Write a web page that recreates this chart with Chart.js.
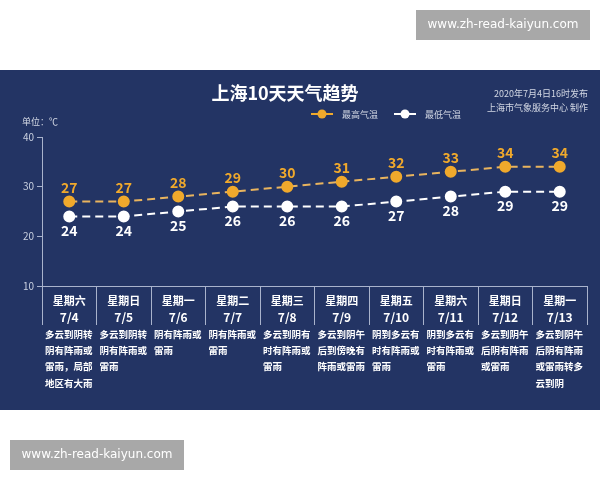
<!DOCTYPE html>
<html>
<head>
<meta charset="utf-8">
<script src="https://cdn.jsdelivr.net/npm/chart.js@4"></script>
<style>
  html, body { margin: 0; padding: 0; background: #fff; }
  #wrap { width: 600px; height: 480px; position: relative; }
</style>
</head>
<body>
<div id="wrap"><canvas id="weatherChart"></canvas></div>
<script>
// 10-day forecast data
const days = ["星期六", "星期日", "星期一", "星期二", "星期三", "星期四", "星期五", "星期六", "星期日", "星期一"];
const dates = ["7/4", "7/5", "7/6", "7/7", "7/8", "7/9", "7/10", "7/11", "7/12", "7/13"];
const highTemps = [27, 27, 28, 29, 30, 31, 32, 33, 34, 34];
const lowTemps = [24, 24, 25, 26, 26, 26, 27, 28, 29, 29];
const yTicks = [10, 20, 30, 40];
const weather = [
  ["多云到阴转", "阴有阵雨或", "雷雨，局部", "地区有大雨"],
  ["多云到阴转", "阴有阵雨或", "雷雨"],
  ["阴有阵雨或", "雷雨"],
  ["阴有阵雨或", "雷雨"],
  ["多云到阴有", "时有阵雨或", "雷雨"],
  ["多云到阴午", "后到傍晚有", "阵雨或雷雨"],
  ["阴到多云有", "时有阵雨或", "雷雨"],
  ["阴到多云有", "时有阵雨或", "雷雨"],
  ["多云到阴午", "后阴有阵雨", "或雷雨"],
  ["多云到阴午", "后阴有阵雨", "或雷雨转多", "云到阴"],
];

const navy = "#233464";
const orange = "#f0a92c";
const axisColor = "#a9b3cc";
const cjk = "'Noto Sans CJK SC', 'Noto Sans', sans-serif";

// background panel, headings, legend, labels and watermarks
const decor = {
  id: "decor",
  beforeDraw(chart) {
    const c = chart.ctx;
    c.save();
    c.fillStyle = navy;
    c.fillRect(0, 70, 600, 340);
    c.restore();
  },
  afterDraw(chart) {
    const c = chart.ctx;
    const x = chart.scales.x;
    c.save();
    c.textBaseline = "middle";

    // title
    c.fillStyle = "#ffffff";
    c.textAlign = "center";
    c.font = "bold 18px " + cjk;
    c.fillText("上海10天天气趋势", 285, 93);

    // source text
    c.textAlign = "right";
    c.fillStyle = "#d3d8e4";
    c.font = "9px " + cjk;
    c.fillText("2020年7月4日16时发布", 588, 94);
    c.fillText("上海市气象服务中心 制作", 588, 108);

    // unit
    c.textAlign = "left";
    c.fillText("单位：℃", 22, 122);

    // legend
    const items = [
      { text: "最高气温", color: orange, x: 311 },
      { text: "最低气温", color: "#ffffff", x: 394 },
    ];
    items.forEach((it) => {
      c.strokeStyle = it.color;
      c.lineWidth = 2;
      c.beginPath();
      c.moveTo(it.x, 114);
      c.lineTo(it.x + 22, 114);
      c.stroke();
      c.fillStyle = it.color;
      c.beginPath();
      c.arc(it.x + 11, 114, 4.5, 0, Math.PI * 2);
      c.fill();
      c.fillStyle = "#d3d8e4";
      c.font = "9px " + cjk;
      c.fillText(it.text, it.x + 31, 115);
    });

    // value labels
    c.textAlign = "center";
    c.font = "bold 14px " + cjk;
    chart.getDatasetMeta(0).data.forEach((p, i) => {
      c.fillStyle = orange;
      c.fillText(highTemps[i], p.x, p.y - 14);
    });
    chart.getDatasetMeta(1).data.forEach((p, i) => {
      c.fillStyle = "#ffffff";
      c.fillText(lowTemps[i], p.x, p.y + 14);
    });

    // day / date labels under the axis
    days.forEach((d, i) => {
      const px = x.getPixelForValue(i);
      c.fillStyle = "#ffffff";
      c.textAlign = "center";
      c.font = "bold 11px " + cjk;
      c.fillText(d, px, 301);
      c.font = "bold 12px " + cjk;
      c.fillText(dates[i], px, 317);
    });

    // weather descriptions
    const half = (x.getPixelForValue(1) - x.getPixelForValue(0)) / 2;
    c.textAlign = "left";
    c.font = "bold 9.5px " + cjk;
    c.fillStyle = "#ffffff";
    weather.forEach((lines, i) => {
      const left = x.getPixelForValue(i) - half + 3;
      lines.forEach((t, j) => c.fillText(t, left, 334 + j * 16.4));
    });

    // watermarks
    const marks = [[416, 10], [10, 440]];
    marks.forEach(([mx, my]) => {
      c.fillStyle = "#a8a8a8";
      c.fillRect(mx, my, 174, 30);
      c.fillStyle = "#ffffff";
      c.textAlign = "center";
      c.font = "12px 'DejaVu Sans', sans-serif";
      c.fillText("www.zh-read-kaiyun.com", mx + 87, my + 15);
    });
    c.restore();
  },
};

const ctx = document.getElementById("weatherChart").getContext("2d");
const weatherChart = new Chart(ctx, {
  type: "line",
  data: {
    labels: dates,
    datasets: [
      {
        label: "最高气温",
        data: highTemps,
        borderColor: "#e9b45e",
        backgroundColor: orange,
        pointBackgroundColor: orange,
        pointBorderColor: orange,
        pointRadius: 5,
        borderWidth: 2,
        borderDash: [8, 5],
        fill: false,
      },
      {
        label: "最低气温",
        data: lowTemps,
        borderColor: "#ffffff",
        backgroundColor: "#ffffff",
        pointBackgroundColor: "#ffffff",
        pointBorderColor: "#ffffff",
        pointRadius: 5,
        borderWidth: 2,
        borderDash: [8, 5],
        fill: false,
      },
    ],
  },
  options: {
    responsive: true,
    maintainAspectRatio: false,
    animation: false,
    layout: { padding: { top: 137, right: 13, bottom: 155, left: 0 } },
    plugins: {
      legend: { display: false },
      tooltip: { enabled: false },
    },
    scales: {
      x: {
        offset: true,
        grid: {
          offset: true,
          drawOnChartArea: false,
          tickLength: 39,
          color: axisColor,
          lineWidth: 1,
        },
        border: { color: axisColor, width: 1 },
        ticks: { display: false },
        afterFit: (s) => { s.height = 39; },
      },
      y: {
        min: 10,
        max: 40,
        afterBuildTicks: (s) => { s.ticks = yTicks.map((v) => ({ value: v })); },
        grid: { drawOnChartArea: false, tickLength: 5, color: axisColor },
        border: { color: axisColor, width: 1 },
        ticks: {
          color: "#c9d0e0",
          padding: 3,
          font: { size: 10, family: cjk },
        },
        afterFit: (s) => { s.width = 42; },
      },
    },
  },
  plugins: [decor],
});
</script>
</body>
</html>
